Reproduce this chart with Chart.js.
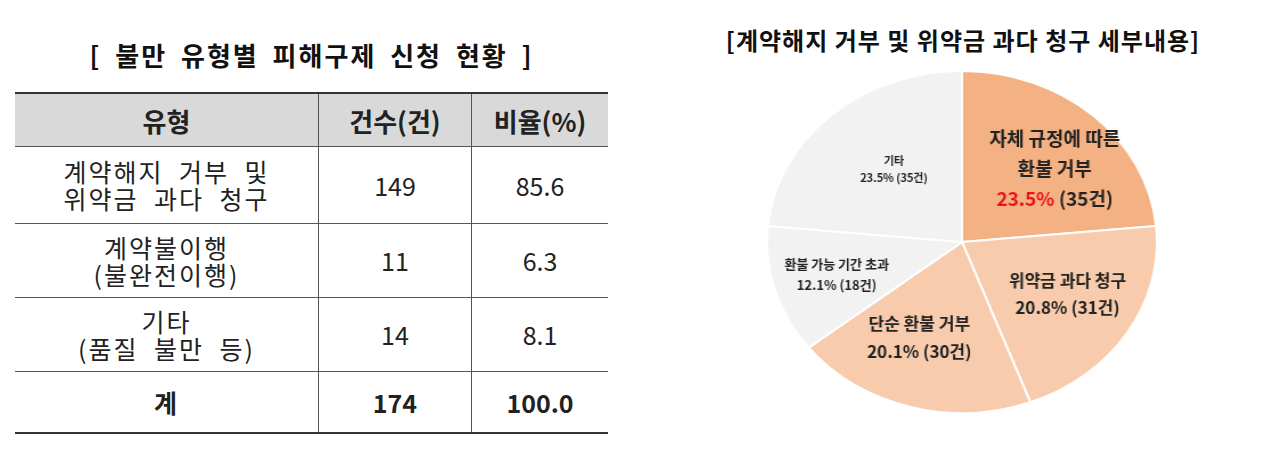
<!DOCTYPE html>
<html><head><meta charset="utf-8">
<script src="https://cdn.jsdelivr.net/npm/chart.js@4"></script>
<style>
body{margin:0;width:1280px;height:467px;background:#fff;font-family:"Noto Sans CJK KR","Noto Sans",sans-serif;position:relative;overflow:hidden}
#t1{position:absolute;left:15px;top:36px;width:593px;text-align:center;font-size:26px;font-weight:bold;color:#111;letter-spacing:2px;word-spacing:6px}
table{position:absolute;left:15px;top:92px;width:593px;border-collapse:collapse;font-size:25px;color:#222}
td,th{text-align:center;padding:0;line-height:27px}
th{background:#d9d9d9;height:52px;font-weight:bold;font-size:26px;border-top:2px solid #333;border-bottom:1px solid #555}
td{border-bottom:1px solid #555}
td:first-child{letter-spacing:2px;word-spacing:8px}
th+th,td+td{border-left:1px solid #555}
tr.tot td{font-weight:bold;height:60px;border-bottom:2px solid #333}
#t2{position:absolute;left:640px;top:22px;width:646px;text-align:center;font-size:24px;font-weight:bold;color:#111;letter-spacing:1px}
#pw{position:absolute;left:790px;top:70px;width:344px;height:344px;transform:scaleX(1.14);transform-origin:center}
</style></head><body>
<div id="t1">[ 불만 유형별 피해구제 신청 현황 ]</div>
<table id="tbl"></table>
<div id="t2">[계약해지 거부 및 위약금 과다 청구 세부내용]</div>
<div id="pw"><canvas id="pie" width="344" height="344"></canvas></div>
<script>
// table data
const tableHeader = ['유형', '건수(건)', '비율(%)'];
const tableTypes = ['계약해지 거부 및<br>위약금 과다 청구', '계약불이행<br>(불완전이행)', '기타<br>(품질 불만 등)', '계'];
const tableCounts = ['149', '11', '14', '174'];
const tableRatios = ['85.6', '6.3', '8.1', '100.0'];

// pie data
const pieLabels = [['자체 규정에 따른', '환불 거부'], ['위약금 과다 청구'], ['단순 환불 거부'], ['환불 가능 기간 초과'], ['기타']];
const pieValues = [23.5, 20.8, 20.1, 12.1, 23.5];
const pieCounts = [35, 31, 30, 18, 35];

const rowHeights = [77, 74, 74];
let html = '<tr><th style="width:303px">' + tableHeader[0] + '</th><th style="width:152px">' + tableHeader[1] + '</th><th>' + tableHeader[2] + '</th></tr>';
tableTypes.forEach((t, i) => {
  const last = i === tableTypes.length - 1;
  html += '<tr' + (last ? ' class="tot"' : '') + ' style="height:' + (last ? 60 : rowHeights[i]) + 'px"><td>' + t + '</td><td>' + tableCounts[i] + '</td><td>' + tableRatios[i] + '</td></tr>';
});
document.getElementById('tbl').innerHTML = html;

// label placement: radius fraction, font size, angle nudge
const labelStyle = [
  { r: 0.64, size: 19, da: 0.1 },
  { r: 0.62, size: 17, da: -0.05 },
  { r: 0.60, size: 17, da: 0.1 },
  { r: 0.67, size: 13, da: 0 },
  { r: 0.55, size: 11, da: 0.05 }
];
const sx = 1.14;

const labelPlugin = {
  id: 'sliceLabels',
  afterDatasetsDraw(chart) {
    const ctx = chart.ctx;
    chart.getDatasetMeta(0).data.forEach((arc, i) => {
      const p = arc.getProps(['x', 'y', 'startAngle', 'endAngle', 'outerRadius'], true);
      const st = labelStyle[i];
      const a = (p.startAngle + p.endAngle) / 2 + st.da;
      const cx = p.x + Math.cos(a) * p.outerRadius * st.r;
      const cy = p.y + Math.sin(a) * p.outerRadius * st.r;
      const lines = pieLabels[i].slice();
      const lh = st.size * 1.6;
      const n = lines.length + 1;
      ctx.save();
      ctx.translate(cx, cy);
      ctx.scale(1 / sx, 1);
      ctx.textAlign = 'center';
      ctx.textBaseline = 'middle';
      ctx.font = 'bold ' + st.size + 'px "Noto Sans CJK KR"';
      ctx.fillStyle = '#222';
      lines.forEach((l, k) => ctx.fillText(l, 0, (k - (n - 1) / 2) * lh));
      const y = ((n - 1) / 2) * lh;
      const pct = pieValues[i].toFixed(1) + '%';
      const rest = ' (' + pieCounts[i] + '건)';
      if (i === 0) {
        const w1 = ctx.measureText(pct).width, w2 = ctx.measureText(rest).width;
        ctx.textAlign = 'left';
        ctx.fillStyle = '#e8141b';
        ctx.fillText(pct, -(w1 + w2) / 2, y);
        ctx.fillStyle = '#222';
        ctx.fillText(rest, -(w1 + w2) / 2 + w1, y);
      } else {
        ctx.fillText(pct + rest, 0, y);
      }
      ctx.restore();
    });
  }
};

new Chart(document.getElementById('pie'), {
  type: 'pie',
  data: {
    labels: pieLabels.map(l => l.join(' ')),
    datasets: [{
      data: pieValues,
      backgroundColor: ['#f4b183', '#f8cbad', '#f8cbad', '#f2f2f2', '#f2f2f2'],
      borderColor: '#ffffff',
      borderWidth: 2
    }]
  },
  options: {
    responsive: false,
    animation: false,
    layout: { padding: 0 },
    plugins: { legend: { display: false }, tooltip: { enabled: false } }
  },
  plugins: [labelPlugin]
});
</script>
</body></html>
